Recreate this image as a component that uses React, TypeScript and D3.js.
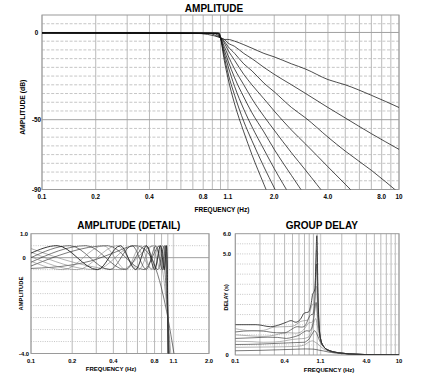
import React from "react";
import * as d3 from "d3";

// ---------- data ----------
const orders = [2, 3, 4, 5, 6, 7, 8, 9, 10];

// Main amplitude plot (dB)
const ampPassStart = [-0.2, -0.2, -0.2, -0.2, -0.2, -0.2, -0.2, -0.2, -0.2];
const ampEdgeFreq = [0.7196, 0.857, 0.9152, 0.9443, 0.9607, 0.971, 0.9776, 0.9822, 0.9856];
const ampStopFreq = [1.05, 1.1, 1.2, 1.35, 1.5, 1.75, 2, 2.5, 3, 4, 5, 7, 10];
const ampStopDb = [
  [-4, -4, -5, -7, -9, -12, -14, -18, -21, -27, -30, -36, -43],
  [-4, -6, -8, -12, -15, -20, -24, -30, -35, -43, -49, -58, -67],
  [-5, -8, -12, -18, -22, -29, -34, -43, -49, -60, -68, -79, -92],
  [-6, -10, -16, -24, -30, -38, -45, -56, -64, -77, -87, -102, -117],
  [-8, -13, -21, -30, -38, -48, -56, -69, -79, -95, -106, -124, -143],
  [-10, -16, -26, -37, -46, -57, -67, -82, -94, -112, -126, -147, -169],
  [-12, -19, -31, -44, -54, -67, -78, -95, -109, -130, -146, -169, -194],
  [-14, -23, -36, -51, -62, -77, -89, -109, -124, -148, -165, -192, -220],
  [-16, -26, -41, -57, -70, -87, -101, -122, -139, -165, -185, -215, -246],
];

// Detail plot: frequency / level points per order
const detailFreq = [
  [0.1, 0.2, 0.3, 0.4, 0.5807, 0.7, 0.8213, 0.919, 1.0, 1.109, 1.253],
  [0.1, 0.4567, 0.791, 0.9134, 0.961, 1.0, 1.052, 1.118],
  [0.1, 0.3634, 0.6715, 0.8774, 0.9497, 0.977, 1.0, 1.03, 1.067],
  [0.1, 0.2989, 0.5686, 0.7826, 0.92, 0.9673, 0.985, 1.0, 1.019, 1.043],
  [0.1, 0.2529, 0.4886, 0.6909, 0.8462, 0.9438, 0.9771, 0.99, 1.0, 1.013, 1.03],
  [0.1, 0.2187, 0.4266, 0.613, 0.7686, 0.8858, 0.9584, 0.9831, 0.992, 1.0, 1.01, 1.022],
  [0.1, 0.1926, 0.3777, 0.5484, 0.6979, 0.8207, 0.9119, 0.968, 0.987, 0.994, 1.0, 1.008, 1.017],
  [0.1, 0.1718, 0.3385, 0.4949, 0.6362, 0.7581, 0.8571, 0.93, 0.9747, 0.9897, 0.995, 1.0, 1.006, 1.014],
  [0.1, 0.1551, 0.3064, 0.4502, 0.5829, 0.7012, 0.8023, 0.8836, 0.9432, 0.9795, 0.9917, 0.996, 1.0, 1.005, 1.011],
];
const detailLevel = [
  [-0.45, -0.3, -0.07, 0.2, 0.5, 0.27, -0.5, -1.5, -2.5, -4, -6],
  [0.38, -0.5, 0.5, -0.5, -1.5, -2.5, -4, -6],
  [-0.35, 0.5, -0.5, 0.5, -0.5, -1.5, -2.5, -4, -6],
  [0.23, -0.5, 0.5, -0.5, 0.5, -0.5, -1.5, -2.5, -4, -6],
  [-0.19, 0.5, -0.5, 0.5, -0.5, 0.5, -0.5, -1.5, -2.5, -4, -6],
  [0.04, -0.5, 0.5, -0.5, 0.5, -0.5, 0.5, -0.5, -1.5, -2.5, -4, -6],
  [0.0, 0.5, -0.5, 0.5, -0.5, 0.5, -0.5, 0.5, -0.5, -1.5, -2.5, -4, -6],
  [-0.15, -0.5, 0.5, -0.5, 0.5, -0.5, 0.5, -0.5, 0.5, -0.5, -1.5, -2.5, -4, -6],
  [0.19, 0.5, -0.5, 0.5, -0.5, 0.5, -0.5, 0.5, -0.5, 0.5, -0.5, -1.5, -2.5, -4, -6],
];

// Group delay (s)
const delayFreq = [
  [0.1, 0.2, 0.35, 0.5, 0.72, 0.9, 1.05, 1.2, 1.4, 2, 3, 5, 10],
  [0.1, 0.3, 0.5, 0.6, 0.7, 0.8, 0.875, 0.94, 1.0, 1.05, 1.1, 1.2, 1.4, 2, 3, 5, 10],
  [0.1, 0.2, 0.3, 0.45, 0.6, 0.7, 0.75, 0.8, 0.85, 0.88, 0.93, 0.97, 1.0, 1.02, 1.05, 1.1, 1.2, 1.4, 2, 3, 5, 10],
  [0.1, 0.16, 0.22, 0.3, 0.4, 0.5, 0.6, 0.7, 0.75, 0.8, 0.85, 0.88, 0.9, 0.92, 0.955, 0.98, 1.0, 1.02, 1.05, 1.1, 1.2, 1.4, 2, 3, 5, 10],
  [0.1, 0.16, 0.25, 0.33, 0.42, 0.5, 0.6, 0.7, 0.75, 0.8, 0.85, 0.88, 0.9, 0.92, 0.94, 0.969, 0.99, 1.0, 1.02, 1.05, 1.1, 1.2, 1.4, 2, 3, 5, 10],
  [0.1, 0.16, 0.22, 0.3, 0.38, 0.45, 0.55, 0.62, 0.7, 0.75, 0.8, 0.85, 0.88, 0.9, 0.92, 0.94, 0.96, 0.977, 0.99, 1.0, 1.02, 1.05, 1.1, 1.2, 1.4, 2, 3, 5, 10],
  [0.1, 0.16, 0.22, 0.32, 0.4, 0.45, 0.5, 0.57, 0.65, 0.7, 0.75, 0.8, 0.85, 0.88, 0.9, 0.92, 0.94, 0.96, 0.97, 0.982, 0.99, 1.0, 1.02, 1.05, 1.1, 1.2, 1.4, 2, 3, 5, 10],
  [0.1, 0.16, 0.22, 0.3, 0.4, 0.5, 0.55, 0.62, 0.7, 0.76, 0.8, 0.85, 0.88, 0.9, 0.92, 0.94, 0.96, 0.97, 0.985, 1.0, 1.02, 1.05, 1.1, 1.2, 1.4, 2, 3, 5, 10],
  [0.1, 0.18, 0.27, 0.35, 0.42, 0.48, 0.55, 0.62, 0.7, 0.78, 0.85, 0.88, 0.91, 0.94, 0.96, 0.975, 0.99, 1.0, 1.02, 1.05, 1.1, 1.2, 1.4, 2, 3, 5, 10],
];
const delaySec = [
  [0.21, 0.23, 0.26, 0.28, 0.3, 0.29, 0.24, 0.2, 0.14, 0.07, 0.03, 0.01, 0.003],
  [0.38, 0.4, 0.42, 0.44, 0.5, 0.65, 0.7, 0.64, 0.57, 0.5, 0.42, 0.3, 0.18, 0.07, 0.03, 0.01, 0.002],
  [0.52, 0.54, 0.57, 0.6, 0.62, 0.63, 0.7, 0.8, 0.98, 1.08, 1.2, 1.12, 1.02, 0.93, 0.8, 0.62, 0.4, 0.22, 0.09, 0.035, 0.012, 0.003],
  [0.68, 0.66, 0.63, 0.64, 0.7, 0.77, 0.8, 0.82, 0.86, 0.92, 1.16, 1.38, 1.52, 1.66, 1.8, 1.7, 1.52, 1.32, 1.08, 0.72, 0.42, 0.22, 0.09, 0.04, 0.013, 0.003],
  [0.82, 0.85, 0.88, 0.87, 0.82, 0.88, 0.98, 1.16, 1.2, 1.18, 1.3, 1.5, 1.7, 1.98, 2.28, 2.6, 2.42, 2.2, 1.8, 1.3, 0.8, 0.42, 0.22, 0.09, 0.04, 0.013, 0.003],
  [1.0, 0.94, 0.92, 0.98, 1.08, 1.1, 1.08, 1.12, 1.3, 1.48, 1.6, 1.6, 1.68, 1.8, 2.2, 2.7, 3.3, 3.4, 3.3, 3.0, 2.3, 1.5, 0.8, 0.42, 0.22, 0.09, 0.04, 0.013, 0.003],
  [1.14, 1.2, 1.18, 1.1, 1.1, 1.18, 1.3, 1.4, 1.38, 1.42, 1.62, 1.88, 2.0, 2.0, 2.1, 2.3, 2.9, 3.8, 4.3, 4.5, 4.3, 3.9, 2.7, 1.6, 0.82, 0.42, 0.22, 0.09, 0.04, 0.013, 0.003],
  [1.3, 1.2, 1.22, 1.38, 1.4, 1.42, 1.5, 1.65, 1.7, 1.72, 1.95, 2.38, 2.5, 2.5, 2.6, 3.1, 4.1, 4.8, 5.2, 4.6, 3.1, 1.6, 0.8, 0.42, 0.22, 0.09, 0.04, 0.013, 0.003],
  [1.5, 1.5, 1.4, 1.5, 1.62, 1.7, 1.62, 1.75, 2.08, 2.12, 2.6, 3.0, 3.1, 3.3, 4.3, 5.3, 5.9, 5.6, 3.4, 1.7, 0.8, 0.42, 0.22, 0.09, 0.04, 0.013, 0.003],
];

// axes
const ampXTicks = [0.1, 0.2, 0.4, 0.8, 1.1, 2, 4, 8, 10];
const ampXLabels = ["0.1", "0.2", "0.4", "0.8", "1.1", "2.0", "4.0", "8.0", "10"];
const ampYTicks = [0, -50, -90];
const ampYLabels = ["0", "-50", "-90"];
const detXTicks = [0.1, 0.2, 0.4, 0.8, 1.1, 2];
const detXLabels = ["0.1", "0.2", "0.4", "0.8", "1.1", "2.0"];
const detYTicks = [1, 0, -4];
const detYLabels = ["1.0", "0", "-4.0"];
const gdXTicks = [0.1, 0.4, 1.1, 4, 10];
const gdXLabels = ["0.1", "0.4", "1.1", "4.0", "10"];
const gdYTicks = [6, 5, 0];
const gdYLabels = ["6.0", "5.0", "0"];

const logGrid = [0.1, 0.2, 0.3, 0.4, 0.5, 0.6, 0.7, 0.8, 0.9, 1, 2, 3, 4, 5, 6, 7, 8, 9, 10];

const FONT = "Liberation Sans, Arial, sans-serif";
const curveColor = (o: number) => (o % 2 === 0 ? "#222" : "#808080");

type Panel = {
  id: string; x0: number; x1: number; y0: number; y1: number;
  xd: [number, number]; yd: [number, number];
};

function Grid({ p, xs, ys, hLines, hSolid, dash }: any) {
  const vx = logGrid.filter((v) => v >= p.xd[0] - 1e-9 && v <= p.xd[1] + 1e-9);
  return (
    <g>
      {vx.map((v: number) => (
        <line key={"v" + v} x1={xs(v)} x2={xs(v)} y1={p.y0} y2={p.y1} stroke="#a8a8a8" strokeWidth={0.8} />
      ))}
      <line x1={xs(1.1)} x2={xs(1.1)} y1={p.y0} y2={p.y1} stroke="#d0d0d0" strokeWidth={1.4} />
      {hLines.map((v: number) => (
        <line key={"h" + v} x1={p.x0} x2={p.x1} y1={ys(v)} y2={ys(v)} stroke="#b8b8b8" strokeWidth={0.8} strokeDasharray={dash} />
      ))}
      {hSolid.map((v: number) => (
        <line key={"s" + v} x1={p.x0} x2={p.x1} y1={ys(v)} y2={ys(v)} stroke="#a0a0a0" strokeWidth={1} />
      ))}
    </g>
  );
}

export default function App() {
  // ---- top panel ----
  const pA: Panel = { id: "a", x0: 42, x1: 399, y0: 15, y1: 189.5, xd: [0.1, 10], yd: [-90, 10] };
  const xA = d3.scaleLog().domain(pA.xd).range([pA.x0, pA.x1]);
  const yA = d3.scaleLinear().domain(pA.yd).range([pA.y1, pA.y0]);
  const lineA = d3.line<[number, number]>().x((d) => xA(d[0])).y((d) => yA(d[1])).curve(d3.curveMonotoneX);
  const ampSeries = orders.map((o, i) => {
    const pts: [number, number][] = [[0.1, ampPassStart[i]], [ampEdgeFreq[i], -0.5], [1.0, -3]];
    ampStopFreq.forEach((f, j) => pts.push([f, ampStopDb[i][j]]));
    return pts;
  });
  const aDash: number[] = [];
  for (let v = 5; v >= -85; v -= 5) if (v !== 0 && v !== -50) aDash.push(v);

  // ---- detail panel ----
  const pD: Panel = { id: "d", x0: 31, x1: 209, y0: 233.7, y1: 353.5, xd: [0.1, 2], yd: [-4, 1] };
  const xD = d3.scaleLog().domain(pD.xd).range([pD.x0, pD.x1]);
  const yD = d3.scaleLinear().domain(pD.yd).range([pD.y1, pD.y0]);
  const lineD = d3.line<[number, number]>().x((d) => xD(d[0])).y((d) => yD(d[1])).curve(d3.curveMonotoneX);
  const dDash: number[] = [0.5, -0.5, -1, -1.5, -2, -2.5, -3, -3.5];

  // ---- group delay panel ----
  const pG: Panel = { id: "g", x0: 235.3, x1: 399, y0: 233.7, y1: 355, xd: [0.1, 10], yd: [0, 6] };
  const xG = d3.scaleLog().domain(pG.xd).range([pG.x0, pG.x1]);
  const yG = d3.scaleLinear().domain(pG.yd).range([pG.y1, pG.y0]);
  const lineG = d3.line<[number, number]>().x((d) => xG(d[0])).y((d) => yG(d[1])).curve(d3.curveMonotoneX);
  const gDash: number[] = [];
  for (let v = 5.5; v > 0.2; v -= 0.5) gDash.push(Math.round(v * 10) / 10);

  const clip = (p: Panel) => (
    <clipPath id={"clip-" + p.id}>
      <rect x={p.x0} y={p.y0} width={p.x1 - p.x0} height={p.y1 - p.y0} />
    </clipPath>
  );
  const frame = (p: Panel) => (
    <rect x={p.x0} y={p.y0} width={p.x1 - p.x0} height={p.y1 - p.y0} fill="none" stroke="#9a9a9a" strokeWidth={1} />
  );

  return (
    <svg width={446} height={376} style={{ position: "absolute", left: 0, top: 0, background: "#fff" }} fontFamily={FONT}>
      <defs>
        {clip(pA)}
        {clip(pD)}
        {clip(pG)}
      </defs>
      <rect x={0} y={0} width={446} height={376} fill="#fff" />

      {/* ===== AMPLITUDE ===== */}
      <text x={214} y={11.5} fontSize={10} fontWeight="bold" textAnchor="middle">AMPLITUDE</text>
      <Grid p={pA} xs={xA} ys={yA} hLines={aDash} hSolid={[0, -50]} dash="3,1.6" />
      {frame(pA)}
      <g clipPath="url(#clip-a)">
        {ampSeries.map((s, i) => (
          <path key={i} d={lineA(s) || ""} fill="none" stroke="#111" strokeWidth={0.75} />
        ))}
      </g>
      {ampYTicks.map((t, i) => (
        <text key={t} x={36.5} y={yA(t) + 2.2} fontSize={6.3} fontWeight="bold" textAnchor="middle">{ampYLabels[i]}</text>
      ))}
      {ampXTicks.map((t, i) => (
        <text key={t} x={xA(t)} y={199} fontSize={6.3} fontWeight="bold" textAnchor="middle">{ampXLabels[i]}</text>
      ))}
      <text x={222} y={211.5} fontSize={6.5} fontWeight="bold" textAnchor="middle">FREQUENCY (Hz)</text>
      <text transform={`translate(24.5,${(pA.y0 + pA.y1) / 2 + 5}) rotate(-90)`} fontSize={6.8} fontWeight="bold" textAnchor="middle">AMPLITUDE (dB)</text>

      {/* ===== AMPLITUDE (DETAIL) ===== */}
      <text x={128.8} y={229.3} fontSize={10} fontWeight="bold" textAnchor="middle">AMPLITUDE (DETAIL)</text>
      <Grid p={pD} xs={xD} ys={yD} hLines={dDash} hSolid={[0]} dash="1,1.3" />
      {frame(pD)}
      <g clipPath="url(#clip-d)">
        {orders.map((o, i) => (
          <path key={o} d={lineD(detailFreq[i].map((f, j) => [f, detailLevel[i][j]] as [number, number])) || ""}
            fill="none" stroke={curveColor(o)} strokeWidth={o === 10 ? 0.9 : 0.6} />
        ))}
      </g>
      {detYTicks.map((t, i) => (
        <text key={t} x={24} y={yD(t) + 2} fontSize={5.8} fontWeight="bold" textAnchor="middle">{detYLabels[i]}</text>
      ))}
      {detXTicks.map((t, i) => (
        <text key={t} x={xD(t)} y={363} fontSize={5.8} fontWeight="bold" textAnchor="middle">{detXLabels[i]}</text>
      ))}
      <text x={111} y={370.5} fontSize={6} fontWeight="bold" textAnchor="middle">FREQUENCY (Hz)</text>
      <text transform={`translate(22.5,${(pD.y0 + pD.y1) / 2}) rotate(-90)`} fontSize={5.8} fontWeight="bold" textAnchor="middle">AMPLITUDE</text>

      {/* ===== GROUP DELAY ===== */}
      <text x={321.8} y={229.3} fontSize={10} fontWeight="bold" textAnchor="middle">GROUP DELAY</text>
      <Grid p={pG} xs={xG} ys={yG} hLines={gDash} hSolid={[]} dash="1,1.3" />
      {frame(pG)}
      <g clipPath="url(#clip-g)">
        {orders.map((o, i) => (
          <path key={o} d={lineG(delayFreq[i].map((f, j) => [f, delaySec[i][j]] as [number, number])) || ""}
            fill="none" stroke={curveColor(o)} strokeWidth={o === 10 ? 0.8 : 0.6} />
        ))}
      </g>
      {gdYTicks.map((t, i) => (
        <text key={t} x={227} y={yG(t) + 2} fontSize={5.8} fontWeight="bold" textAnchor="middle">{gdYLabels[i]}</text>
      ))}
      {gdXTicks.map((t, i) => (
        <text key={t} x={xG(t)} y={363} fontSize={5.8} fontWeight="bold" textAnchor="middle">{gdXLabels[i]}</text>
      ))}
      <text x={329} y={371.5} fontSize={6} fontWeight="bold" textAnchor="middle">FREQUENCY (Hz)</text>
      <text transform={`translate(227.5,${(pG.y0 + pG.y1) / 2 + 3}) rotate(-90)`} fontSize={5.5} fontWeight="bold" textAnchor="middle">DELAY (s)</text>
    </svg>
  );
}
